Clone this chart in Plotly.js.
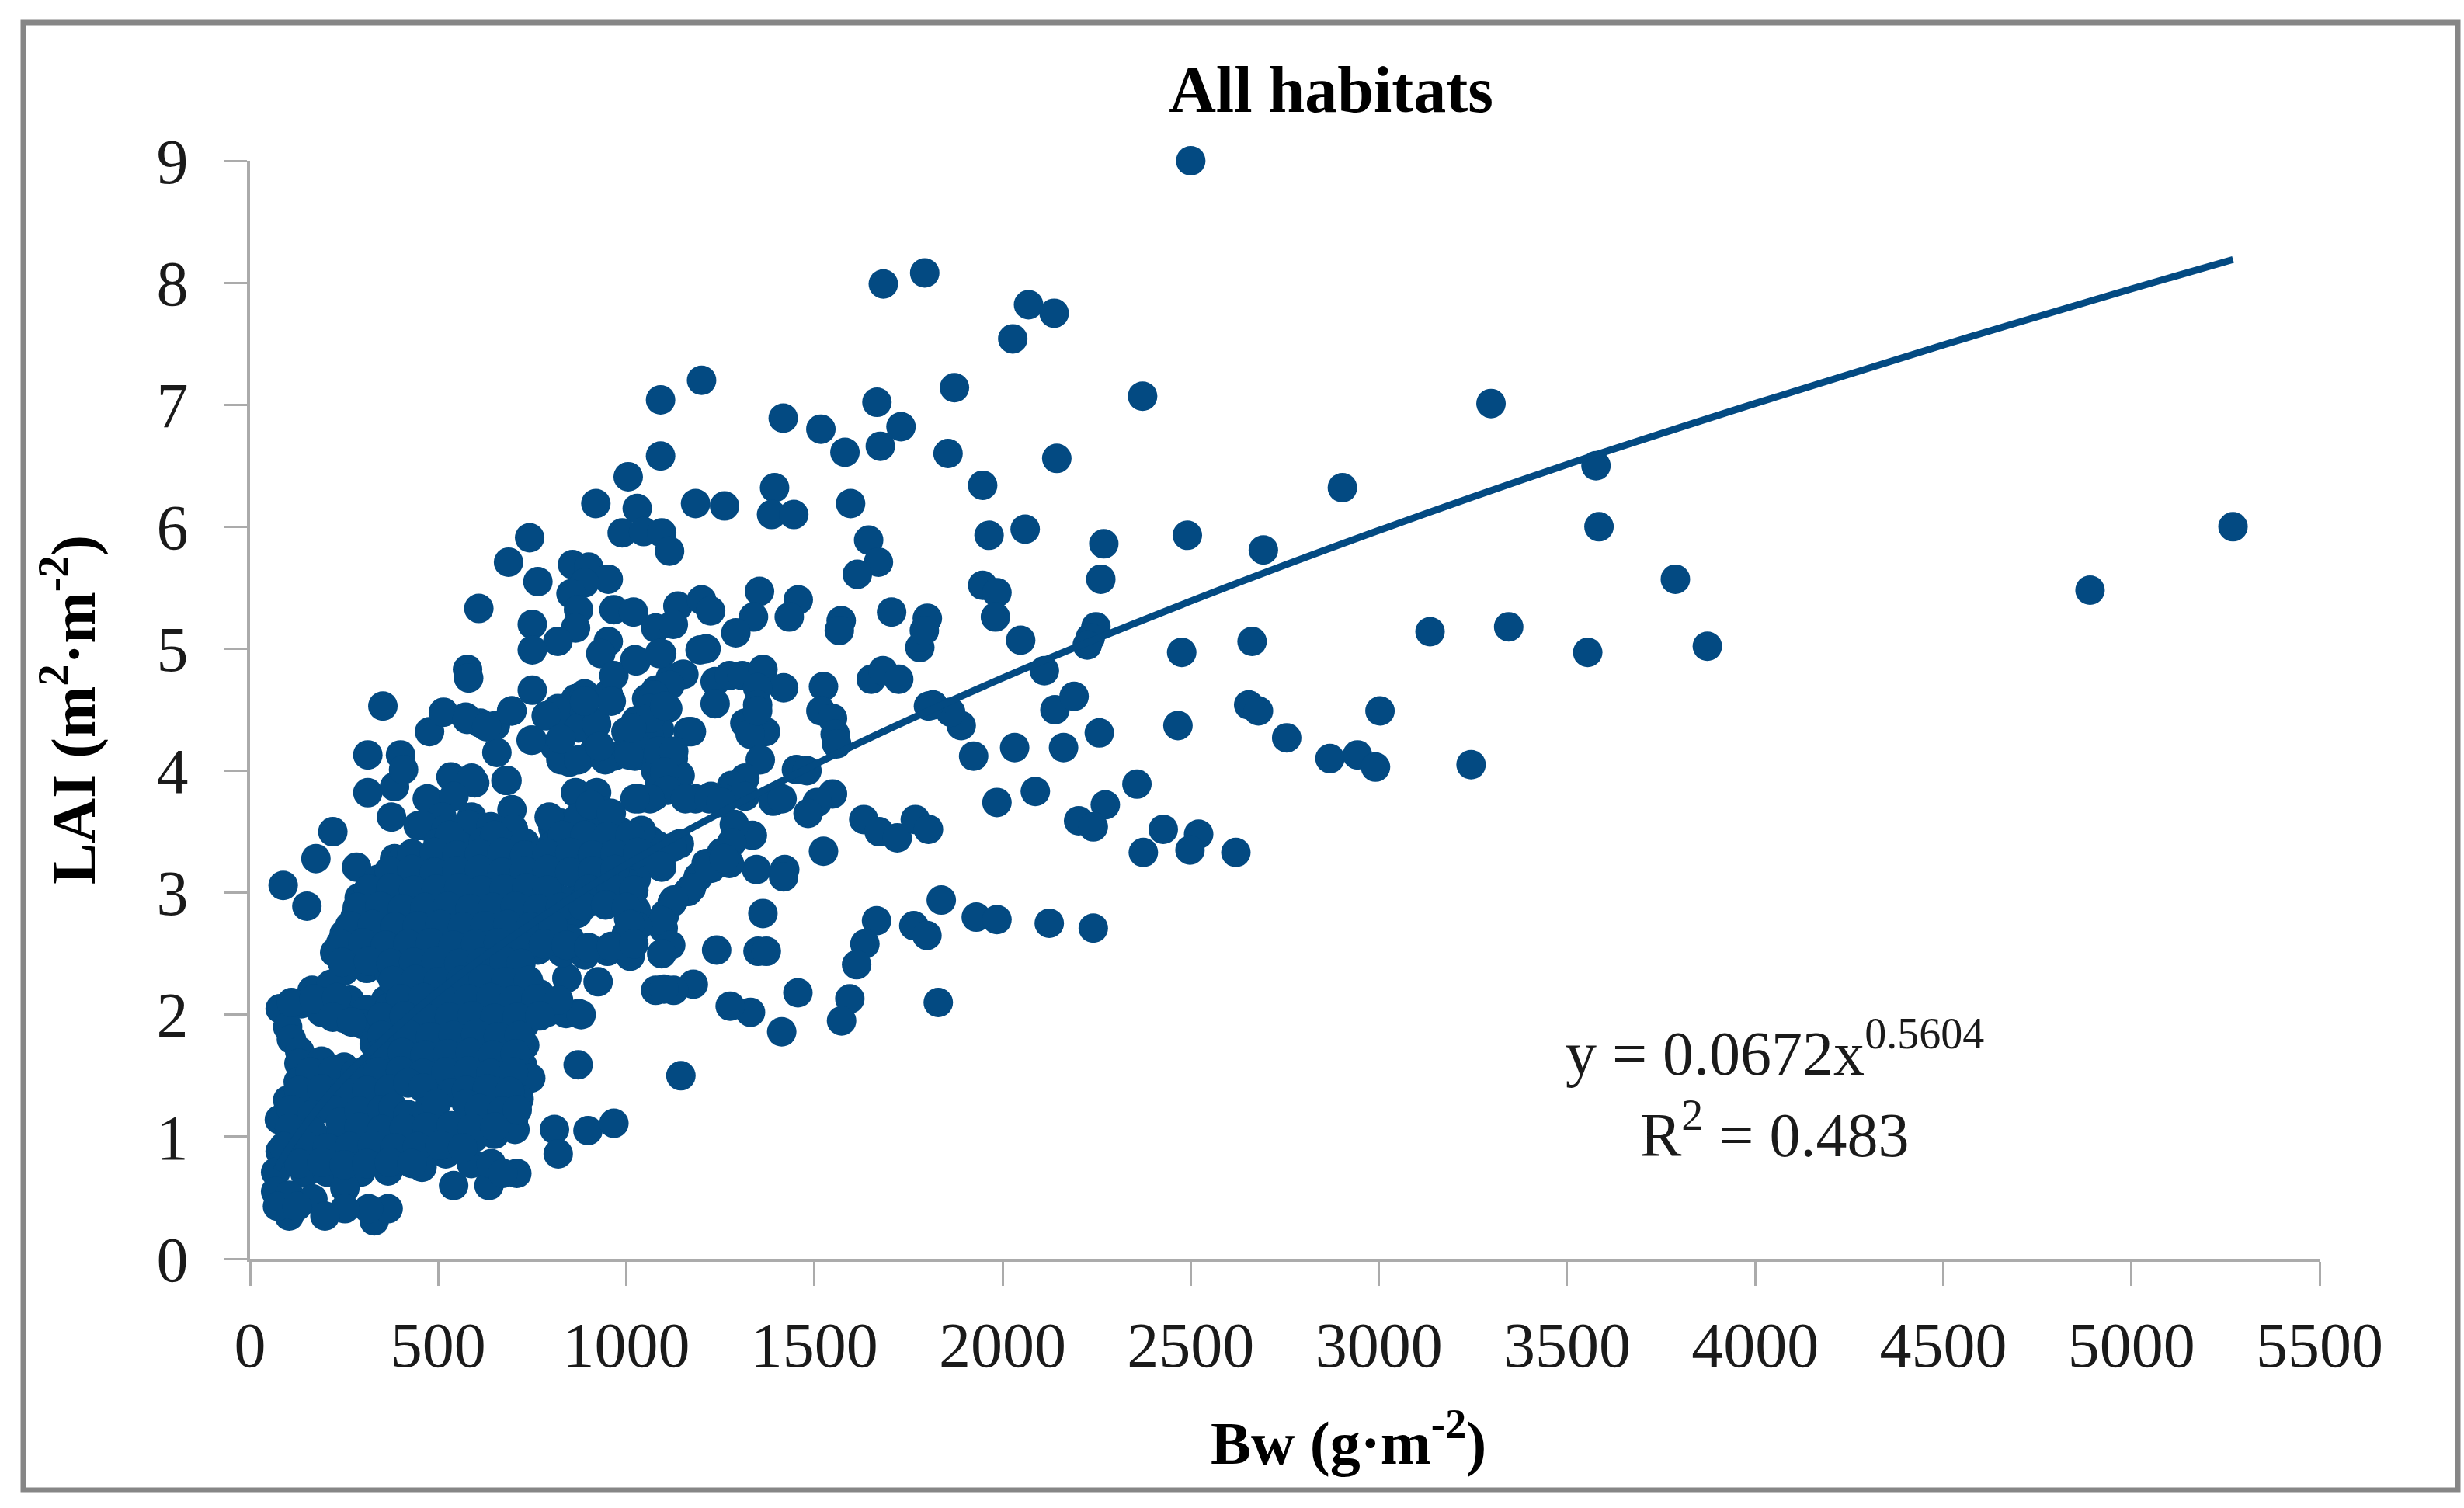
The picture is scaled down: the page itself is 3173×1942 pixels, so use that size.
<!DOCTYPE html>
<html>
<head>
<meta charset="utf-8">
<script src="https://cdn.plot.ly/plotly-3.0.1.min.js"></script>
<style>html,body{margin:0;padding:0;background:#fff}#chart{width:3173px;height:1942px}</style>
</head>
<body>
<div id="chart"></div>
<script>
// Values as [Bw, LAI]
const pointsOuter = [[2500,9.0],[1683,7.99],[1793,8.08],[2069,7.82],[2137,7.75],[2027,7.54],[1872,7.14],[2372,7.07],[3298,7.01],[3577,6.50],[2903,6.32],[3585,6.0],[5270,6.0],[4890,5.48],[3788,5.57],[3136,5.14],[3345,5.18],[3555,4.97],[3873,5.02],[2693,5.81],[2663,5.06],[2654,4.54],[2680,4.49],[2755,4.27],[3003,4.49],[2870,4.10],[2943,4.13],[2991,4.03],[3245,4.05],[2144,6.56],[1855,6.60],[1947,6.34],[1964,5.93],[2060,5.98],[2269,5.86],[2491,5.93],[2261,5.57],[1947,5.52],[1985,5.46],[1981,5.26],[2048,5.07],[2476,4.97],[2466,4.37],[2248,5.18],[2233,5.09],[2225,5.03],[2111,4.82],[2139,4.50],[2190,4.61],[2257,4.31],[2162,4.19],[2032,4.19],[1923,4.12],[1890,4.37],[1862,4.48],[1815,4.54],[2087,3.83],[1985,3.74],[2357,3.89],[2273,3.72],[2202,3.59],[2241,3.54],[2427,3.52],[2374,3.33],[2521,3.48],[2498,3.35],[2620,3.33]];
const pointsUpper = [[1200,7.20],[1091,7.04],[1417,6.89],[1666,7.02],[1517,6.80],[1730,6.82],[1581,6.61],[1675,6.66],[1091,6.58],[1005,6.41],[919,6.19],[1029,6.15],[1184,6.19],[1261,6.17],[1394,6.32],[1386,6.10],[1445,6.10],[1596,6.19],[989,5.95],[1046,5.96],[1094,5.95],[1115,5.80],[743,5.91],[687,5.71],[765,5.55],[1644,5.89],[1670,5.71],[1614,5.61],[608,5.33],[857,5.69],[900,5.67],[952,5.57],[889,5.54],[853,5.45],[873,5.32],[865,5.17],[818,5.06],[750,5.20],[750,4.99],[952,5.06],[932,4.96],[967,5.32],[1019,5.30],[1078,5.17],[1137,5.35],[1200,5.40],[1224,5.31],[1125,5.20],[1094,4.96],[1023,4.91],[1212,5.0],[1196,4.99],[1354,5.47],[1338,5.26],[1291,5.13],[1457,5.40],[1433,5.26],[1571,5.23],[1566,5.15],[1705,5.30],[1780,5.01],[1800,5.25],[1792,5.15],[578,4.83],[581,4.76],[750,4.66],[695,4.49],[612,4.39],[573,4.44],[652,4.37],[750,4.25],[656,4.15],[683,3.92],[597,3.90]];
const pointsMiddle = [[865,4.59],[818,4.51],[920,4.39],[952,4.63],[967,4.78],[889,4.63],[841,4.41],[810,4.20],[849,4.07],[912,4.15],[967,4.12],[1023,4.12],[1078,4.25],[1054,4.59],[1078,4.66],[1117,4.76],[1153,4.79],[1110,4.51],[1023,4.39],[1062,4.41],[1169,4.32],[1078,4.0],[1125,4.10],[1026,4.90],[1088,4.96],[1150,4.79],[1116,4.70],[1074,4.62],[1061,4.51],[1026,4.41],[1164,4.32],[1088,4.34],[1061,4.28],[1119,4.15],[1019,4.24],[999,4.32],[1236,4.73],[1236,4.55],[1274,4.78],[1308,4.78],[1363,4.83],[1418,4.68],[1349,4.68],[1349,4.54],[1315,4.39],[1370,4.32],[1329,4.30],[1349,4.49],[1524,4.69],[1517,4.49],[1548,4.43],[1555,4.30],[1559,4.22],[1651,4.75],[1682,4.82],[1724,4.75],[1803,4.53],[1452,4.01],[1480,4.0],[1356,4.09],[1315,3.94],[1280,3.88],[1225,3.79],[1184,3.77],[1260,3.77],[1315,3.79],[1390,3.75],[1414,3.77],[1033,3.77],[1074,3.79],[1122,3.88],[1088,4.03],[1088,3.92],[1143,3.96],[1548,3.81],[1507,3.74],[1483,3.65],[1631,3.60],[1672,3.50],[1720,3.45],[1768,3.60],[1803,3.52],[1524,3.34],[1346,3.19],[1421,3.19],[1418,3.13],[1335,3.47],[1287,3.56],[1280,3.41],[1253,3.33],[1274,3.24],[1212,3.24],[1191,3.13],[1225,3.20],[1164,3.01],[1122,2.92],[1102,2.82],[1098,2.71],[1363,2.83],[1665,2.77],[1634,2.58],[1612,2.41],[1837,2.94],[1764,2.73],[1799,2.65],[1930,2.80],[1985,2.78],[2124,2.75],[2241,2.71],[1829,2.10],[1594,2.13],[1572,1.95],[1456,2.18],[1413,1.86],[1240,2.53],[1350,2.52],[1372,2.52],[1330,2.02],[1276,2.07],[1145,1.50],[1178,2.25],[1126,2.20],[1078,2.20],[1100,2.21]];
const pointsLeftTop = [[353,4.53],[477,4.32],[514,4.48],[577,4.42],[629,4.36],[696,4.49],[747,4.25],[313,4.13],[400,4.13],[313,3.82],[534,3.95],[589,3.94],[680,3.92],[696,3.68],[376,3.62],[447,3.55],[384,3.87],[408,4.01],[471,3.77],[542,3.79],[589,3.62],[510,3.62],[220,3.50],[175,3.28],[283,3.21],[384,3.28],[88,3.06],[151,2.89],[360,3.09],[826,4.48],[889,4.48],[873,4.35],[787,4.45],[921,4.38],[826,4.09],[873,4.09],[944,4.09],[1007,4.13],[826,4.26],[929,4.20],[1063,4.43],[1015,4.35],[1102,4.53],[1173,4.32],[1086,4.16],[1126,4.16],[960,4.57],[889,4.57],[1102,3.99],[1110,3.84],[1063,3.77],[1023,3.77],[1157,3.77],[1220,3.77],[1252,3.74],[865,3.82],[921,3.82],[936,3.67],[826,3.57],[873,3.62],[984,3.50],[1063,3.43],[1141,3.40],[1094,3.21],[1220,3.21],[1260,3.28],[1173,3.04],[1126,2.94],[1094,2.77],[1118,2.57],[1094,2.50],[925,2.27],[842,2.30],[873,2.01],[1081,3.39],[1122,3.37],[1040,3.32],[999,3.41],[1088,3.22],[1026,3.11],[1019,3.01],[1006,2.79],[1026,2.86]];
const pointsBlobHigh = [[460,3.55],[520,3.52],[580,3.56],[640,3.54],[700,3.52],[805,3.53],[925,3.52],[1040,3.51],[500,3.41],[560,3.38],[620,3.42],[680,3.39],[730,3.41],[800,3.38],[860,3.42],[920,3.39],[980,3.37],[400,3.25],[460,3.27],[520,3.23],[580,3.26],[640,3.24],[700,3.27],[760,3.23],[820,3.26],[880,3.24],[940,3.22],[1000,3.25],[340,3.11],[400,3.09],[460,3.12],[520,3.08],[580,3.11],[640,3.09],[700,3.12],[760,3.08],[800,3.11],[880,3.09],[940,3.12],[1000,3.08],[290,2.96],[350,2.94],[410,2.97],[470,2.93],[530,2.96],[590,2.94],[650,2.97],[710,2.93],[770,2.96],[830,2.94],[890,2.95],[950,2.93],[1010,2.96],[280,2.81],[340,2.79],[400,2.82],[460,2.78],[520,2.81],[580,2.79],[640,2.82],[700,2.78],[760,2.81],[820,2.79],[870,2.83],[1030,2.72],[250,2.66],[310,2.64],[370,2.67],[430,2.63],[490,2.66],[550,2.64],[610,2.67],[670,2.63],[730,2.66],[790,2.64],[850,2.62],[1000,2.66],[225,2.51],[285,2.49],[345,2.52],[405,2.48],[465,2.51],[525,2.49],[585,2.52],[645,2.48],[705,2.51],[765,2.53],[830,2.51],[890,2.49],[950,2.52],[1010,2.48],[795,3.62],[905,3.72],[960,3.65]];
const pointsBlobLow = [[250,2.36],[310,2.38],[370,2.34],[430,2.37],[490,2.35],[550,2.38],[610,2.34],[670,2.37],[720,2.35],[165,2.20],[215,2.25],[265,2.12],[360,2.12],[410,2.20],[470,2.22],[530,2.19],[590,2.21],[650,2.18],[710,2.22],[770,2.17],[80,2.05],[136,2.09],[190,2.02],[250,1.97],[310,2.04],[370,2.06],[430,2.03],[490,2.05],[550,2.02],[610,2.06],[670,2.03],[730,2.05],[790,2.02],[840,2.01],[880,2.0],[100,1.90],[110,1.80],[132,1.70],[300,1.92],[320,1.90],[380,1.91],[440,1.89],[500,1.92],[560,1.88],[620,1.91],[680,1.89],[730,1.92],[330,1.76],[390,1.74],[450,1.77],[510,1.73],[570,1.76],[630,1.74],[690,1.77],[730,1.75],[130,1.60],[190,1.62],[250,1.57],[310,1.55],[370,1.60],[430,1.62],[490,1.58],[550,1.61],[610,1.59],[670,1.62],[725,1.58],[128,1.45],[185,1.43],[245,1.46],[305,1.44],[365,1.47],[425,1.45],[485,1.43],[545,1.46],[605,1.44],[665,1.47],[720,1.45],[746,1.48],[872,1.59],[100,1.30],[160,1.28],[220,1.31],[280,1.29],[340,1.32],[480,1.29],[600,1.30],[660,1.28],[715,1.31],[78,1.14],[136,1.14],[255,1.16],[320,1.14],[380,1.17],[440,1.15],[500,1.13],[580,1.14],[640,1.16],[700,1.13],[115,0.99],[175,1.0],[235,0.98],[295,1.01],[355,0.99],[415,1.02],[475,0.98],[535,1.0],[595,0.99],[650,1.02],[704,1.06],[809,1.06],[898,1.05],[967,1.11],[819,0.86],[80,0.88],[160,0.87],[220,0.84],[280,0.86],[340,0.85],[400,0.87],[460,0.84],[520,0.86],[68,0.71],[146,0.70],[205,0.71],[260,0.69],[294,0.71],[367,0.72],[457,0.75],[541,0.60],[635,0.60],[709,0.70],[588,0.78],[641,0.78],[672,0.70],[68,0.55],[104,0.52],[167,0.49],[252,0.58],[330,0.31],[367,0.41],[315,0.41],[252,0.41],[199,0.35],[104,0.35],[73,0.43],[125,0.43]];
const pointsBlobFill = [[530,3.47],[650,3.47],[830,3.47],[890,3.47],[950,3.46],[1010,3.47],[430,3.32],[490,3.33],[550,3.31],[610,3.32],[670,3.33],[730,3.31],[790,3.32],[850,3.33],[910,3.31],[970,3.32],[1030,3.33],[370,3.18],[430,3.19],[490,3.17],[550,3.18],[610,3.19],[670,3.17],[730,3.18],[790,3.19],[850,3.17],[910,3.18],[970,3.19],[315,3.03],[375,3.04],[435,3.02],[495,3.03],[555,3.04],[615,3.02],[675,3.03],[735,3.04],[790,3.02],[900,3.03],[960,3.04],[1020,3.02],[285,2.88],[345,2.89],[405,2.87],[465,2.88],[525,2.89],[585,2.87],[645,2.88],[705,2.89],[765,2.87],[825,2.88],[885,2.89],[945,2.90],[1000,2.88],[265,2.73],[325,2.74],[385,2.72],[445,2.73],[505,2.74],[565,2.72],[625,2.73],[685,2.74],[745,2.72],[805,2.73],[1010,2.74],[240,2.58],[300,2.59],[360,2.57],[420,2.58],[480,2.59],[540,2.57],[600,2.58],[660,2.59],[720,2.57],[780,2.58],[840,2.57],[900,2.55],[960,2.56],[1020,2.58],[245,2.43],[315,2.44],[375,2.42],[435,2.43],[495,2.44],[555,2.42],[615,2.43],[675,2.44],[720,2.42],[380,2.28],[440,2.29],[500,2.27],[560,2.28],[620,2.29],[680,2.27],[740,2.28],[110,2.10],[170,2.13],[230,2.14],[400,2.13],[460,2.14],[520,2.12],[580,2.13],[640,2.14],[700,2.12],[760,2.13],[820,2.12],[220,1.98],[270,1.94],[350,1.98],[410,1.99],[470,1.97],[530,1.98],[590,1.99],[650,1.97],[710,1.98],[770,1.99],[350,1.83],[420,1.84],[480,1.82],[540,1.83],[600,1.84],[660,1.82],[715,1.83],[345,1.68],[405,1.69],[465,1.67],[525,1.68],[585,1.69],[645,1.67],[705,1.68],[160,1.53],[220,1.54],[280,1.52],[340,1.53],[400,1.54],[460,1.52],[520,1.53],[580,1.54],[640,1.52],[700,1.53],[130,1.38],[190,1.39],[250,1.37],[310,1.38],[370,1.39],[420,1.44],[460,1.40],[535,1.36],[575,1.38],[630,1.39],[690,1.37],[110,1.22],[165,1.18],[220,1.22],[240,1.12],[290,1.21],[350,1.22],[380,1.24],[420,1.18],[470,1.21],[495,1.27],[575,1.27],[610,1.23],[670,1.21],[710,1.22],[105,1.07],[165,1.04],[290,1.08],[350,1.06],[410,1.07],[470,1.08],[535,1.09],[590,1.07],[650,1.08],[90,0.92],[145,0.93],[205,0.91],[265,0.92],[325,0.93],[385,0.91],[445,0.92],[505,0.93],[565,0.91],[130,0.78],[190,0.79],[250,0.77],[310,0.78],[370,0.79],[430,0.78]];
const pointsGroups = [pointsOuter, pointsUpper, pointsMiddle, pointsLeftTop, pointsBlobHigh, pointsBlobLow, pointsBlobFill];
const fitX = [70,100,200,300,500,750,1000,1500,2000,2500,3000,3500,4000,4500,5000,5270];
const fitY = [0.73,0.89,1.31,1.64,2.19,2.75,3.23,4.05,4.76,5.39,5.97,6.51,7.01,7.49,7.95,8.19];
const xTicks = [0,500,1000,1500,2000,2500,3000,3500,4000,4500,5000,5500];
const yTicks = [0,1,2,3,4,5,6,7,8,9];
const chartTitle = 'All habitats';
const xLabel = 'Bw (g·m<sup>-2</sup>)';
const yLabel = 'LAI (m<sup>2</sup>·m<sup>-2</sup>)';
const equation = 'y = 0.0672x<sup>0.5604</sup>';
const rSquared = 'R<sup>2</sup> = 0.483';

const W = 3173, H = 1942, L = 322, R = 186, T = 207, B = 321;
const pw = W - L - R, ph = H - T - B;
const px = v => (v - L) / pw;
const py = v => 1 - (v - T) / ph;
const all = pointsGroups.flat();
const serif = 'Liberation Serif, Times New Roman, serif';
const ink = '#1a1a1a', blue = '#034a82', axisGray = '#ababab';

Plotly.newPlot('chart', [
  {type:'scatter', mode:'markers', x: all.map(p=>p[0]), y: all.map(p=>p[1]),
   marker:{color:blue, size:38, line:{width:0}}, cliponaxis:false, showlegend:false, hoverinfo:'skip'},
  {type:'scatter', mode:'lines', x: fitX, y: fitY, line:{color:blue, width:9, shape:'spline'},
   cliponaxis:false, showlegend:false, hoverinfo:'skip'}
], {
  width:W, height:H, margin:{l:L, r:R, t:T, b:B, pad:0},
  paper_bgcolor:'#fff', plot_bgcolor:'#fff', showlegend:false,
  title:{text:'<b>'+chartTitle+'</b>', xref:'paper', x:px(1714), xanchor:'center', yref:'container', y:1-115/H, yanchor:'middle',
         font:{family:serif, size:84, color:'#000'}},
  xaxis:{range:[0,5500], tickvals:xTicks, ticktext:xTicks.map(String), showgrid:false, zeroline:false,
         showline:true, linecolor:axisGray, linewidth:4, ticks:'outside', ticklen:31, tickwidth:3, tickcolor:axisGray, ticklabelstandoff:6,
         tickfont:{family:serif, size:82, color:ink}, tickangle:0},
  yaxis:{range:[0,9], tickvals:yTicks, ticktext:yTicks.map(String), showgrid:false, zeroline:false,
         showline:true, linecolor:axisGray, linewidth:4, ticks:'outside', ticklen:29, tickwidth:3, tickcolor:axisGray, ticklabelstandoff:30,
         tickfont:{family:serif, size:82, color:ink},
         title:{text:'<b>'+yLabel+'</b>', standoff:54, font:{family:serif, size:80, color:'#000'}}},
  annotations:[
    {text:'<b>'+xLabel+'</b>', xref:'paper', yref:'paper', x:px(1736), y:py(1852), xanchor:'center', yanchor:'middle', showarrow:false,
     font:{family:serif, size:78, color:'#000'}},
    {text:equation, xref:'paper', yref:'paper', x:px(2285), y:py(1350), xanchor:'center', yanchor:'middle', showarrow:false,
     font:{family:serif, size:80, color:ink}},
    {text:rSquared, xref:'paper', yref:'paper', x:px(2285), y:py(1455), xanchor:'center', yanchor:'middle', showarrow:false,
     font:{family:serif, size:80, color:ink}}
  ],
  shapes:[{type:'rect', xref:'paper', yref:'paper', layer:'below', x0:px(30), x1:px(3165), y0:py(1919), y1:py(29),
           line:{color:'#868686', width:7}, fillcolor:'rgba(0,0,0,0)'}]
}, {staticPlot:true, displayModeBar:false});
</script>
</body>
</html>
